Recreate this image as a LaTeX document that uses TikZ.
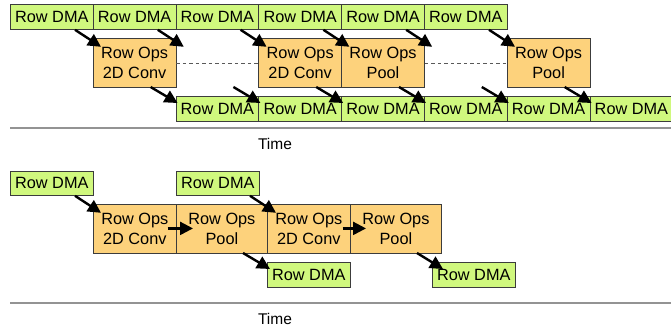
\documentclass[tikz,border=0pt]{standalone}
\usepackage{fontspec}
\setmainfont{Liberation Sans}
\usetikzlibrary{arrows.meta}
\definecolor{dmagreen}{RGB}{208,248,126}
\definecolor{opsorange}{RGB}{253,210,124}
\definecolor{edgegray}{RGB}{60,60,60}
\tikzset{
  box/.style={draw=edgegray, line width=0.8pt, anchor=north west, inner sep=0pt,
    font=\fontsize{16.3}{20}\selectfont, align=center},
  dma/.style={box, fill=dmagreen, minimum width=82.8pt, minimum height=24.5pt},
  ops/.style={box, fill=opsorange, minimum width=82.8pt, minimum height=49pt},
  wideops/.style={ops, minimum width=91pt},
  arr/.style={line width=2.4pt, -{Triangle[length=13pt,width=13pt]}},
  timeline/.style={draw=gray!85, line width=1.6pt},
  idle/.style={draw=gray!70!black, dash pattern=on 3.5pt off 3pt, line width=0.8pt},
  timelabel/.style={font=\fontsize{15.5}{18}\selectfont}
}
\begin{document}
\begin{tikzpicture}[x=1pt, y=-1pt]
\useasboundingbox (0,0) rectangle (671,329);

% ---- pipelined schedule ----
% incoming row transfers
\foreach \i/\x in {1/10, 2/92.8, 3/175.6, 4/258.4, 5/341.2, 6/424}
  \node[dma] (t\i) at (\x,4.5) {Row DMA};
% row operations
\node[ops] (o1) at (92.8,38) {Row Ops\\2D Conv};
\node[ops] (o2) at (258.4,38) {Row Ops\\2D Conv};
\node[ops] (o3) at (341.2,38) {Row Ops\\Pool};
\node[ops] (o4) at (506.8,38) {Row Ops\\Pool};
% outgoing row transfers
\foreach \i/\x in {1/175.6, 2/258.4, 3/341.2, 4/424, 5/506.8, 6/589.6}
  \node[dma] (b\i) at (\x,96) {Row DMA};

% idle gaps between row operations
\draw[idle] (o1.east) -- (o2.west);
\draw[idle] (o3.east) -- (o4.west);

% transfer -> operation arrows
\foreach \i in {1,...,6}
  \draw[arr] ([xshift=65pt]t\i.south west) -- ++(26,17);
% operation -> transfer arrows
\foreach \i in {1,...,6}
  \draw[arr] ([xshift=-25pt,yshift=9pt]b\i.north west) -- ++(27,16);

\coordinate (l1a) at (10,128);
\coordinate (l1b) at (671,128);
\draw[timeline] (l1a) -- (l1b);
\node[timelabel] (time1) at (275,144) {Time};

% ---- sequential schedule ----
\node[dma] (s1) at (10,170.5) {Row DMA};
\node[dma] (s2) at (176,170.5) {Row DMA};
\node[ops] (p1) at (93,203.5) {Row Ops\\2D Conv};
\node[wideops] (p2) at (176,203.5) {Row Ops\\Pool};
\node[ops] (p3) at (267,203.5) {Row Ops\\2D Conv};
\node[wideops] (p4) at (350,203.5) {Row Ops\\Pool};
\node[dma] (r1) at (267,262) {Row DMA};
\node[dma] (r2) at (432,262) {Row DMA};

\draw[arr] ([xshift=65pt]s1.south west) -- ++(26,17);
\draw[arr] ([xshift=74pt]s2.south west) -- ++(26,17);
\draw[arr] ([xshift=-9pt]p1.east) -- ([xshift=17pt]p2.west);
\draw[arr] ([xshift=-8pt]p3.east) -- ([xshift=16pt]p4.west);
\draw[arr] ([xshift=-24pt,yshift=9pt]r1.north west) -- ([xshift=3pt,yshift=-7pt]r1.north west);
\draw[arr] ([xshift=-15pt,yshift=9pt]r2.north west) -- ([xshift=11pt,yshift=-7pt]r2.north west);

\coordinate (l2a) at (10,303);
\coordinate (l2b) at (671,303);
\draw[timeline] (l2a) -- (l2b);
\node[timelabel] (time2) at (275,319) {Time};
\end{tikzpicture}
\end{document}
